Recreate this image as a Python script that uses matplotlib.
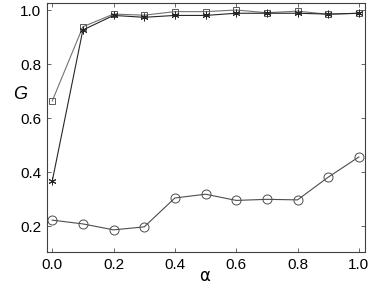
import numpy as np
import matplotlib
matplotlib.use("Agg")
import matplotlib.pyplot as plt

alpha = [0.0, 0.1, 0.2, 0.3, 0.4, 0.5, 0.6, 0.7, 0.8, 0.9, 1.0]
g_square = [0.663, 0.938, 0.985, 0.981, 0.994, 0.994, 1.000, 0.990, 0.996, 0.984, 0.988]
g_star = [0.366, 0.926, 0.980, 0.973, 0.980, 0.980, 0.988, 0.988, 0.988, 0.985, 0.988]
g_circle = [0.222, 0.208, 0.186, 0.197, 0.304, 0.318, 0.295, 0.299, 0.297, 0.381, 0.456]

plt.rcParams['font.family'] = ['Liberation Sans', 'DejaVu Sans']

fig = plt.figure(figsize=(3.71, 2.86), dpi=100)
ax = fig.add_axes([47 / 371, 34 / 286, 318 / 371, 249 / 286])

ax.plot(alpha, g_square, color='0.45', lw=0.8, marker='s', ms=5,
        mfc='none', mec='0.35', mew=0.7)
ax.plot(alpha, g_star, color='0.15', lw=0.8, marker=(6, 2, 0), ms=5.5,
        mec='0.15', mew=0.7)
ax.plot(alpha, g_circle, color='0.3', lw=0.8, marker='o', ms=6.5,
        mfc='none', mec='0.3', mew=0.7)

ax.set_xlim(-0.017, 1.02)
ax.set_ylim(0.104, 1.026)
ax.set_xticks([0.0, 0.2, 0.4, 0.6, 0.8, 1.0])
ax.set_yticks([0.2, 0.4, 0.6, 0.8, 1.0])
ax.xaxis.set_major_formatter(matplotlib.ticker.FormatStrFormatter('%.1f'))
ax.yaxis.set_major_formatter(matplotlib.ticker.FormatStrFormatter('%.1f'))
ax.tick_params(direction='in', top=True, right=True, length=3, width=0.6,
               labelsize=11, color='0.3', pad=4)
for s in ax.spines.values():
    s.set_linewidth(0.8)
    s.set_color('0.25')

ax.set_xlabel('α', fontsize=12, family='DejaVu Sans', va='center')
ax.xaxis.set_label_coords(0.495, -0.095)
ax.set_ylabel('G', fontsize=13, style='italic', rotation=0)
ax.yaxis.set_label_coords(-0.085, 0.6)

fig.savefig('out.png', dpi=100)
